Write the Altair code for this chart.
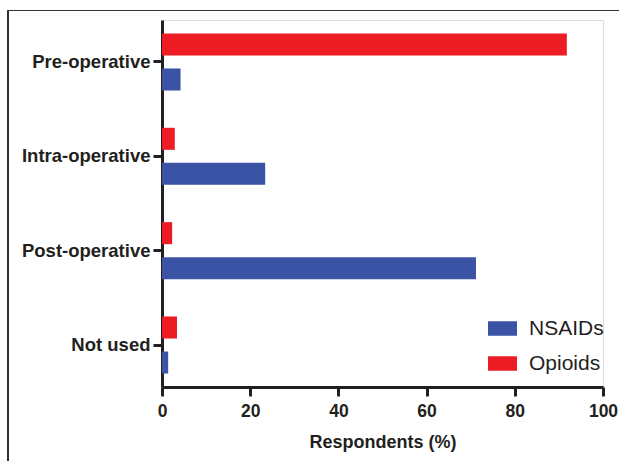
import altair as alt
import pandas as pd

categories = ["Pre-operative", "Intra-operative", "Post-operative", "Not used"]
nsaids = [4.2, 23.4, 71.2, 1.4]
opioids = [91.8, 2.9, 2.3, 3.4]
series = ["NSAIDs", "Opioids"]
colors = ["#3A53A4", "#ED1C24"]
x_ticks = [0, 20, 40, 60, 80, 100]

rows = []
for c, n, o in zip(categories, nsaids, opioids):
    rows.append({"phase": c, "drug": "NSAIDs", "value": n})
    rows.append({"phase": c, "drug": "Opioids", "value": o})
df = pd.DataFrame(rows)

font = "Liberation Sans"
ink = "#231F20"

bars = alt.Chart(df).mark_bar(cornerRadius=0).encode(
    x=alt.X("value:Q",
            scale=alt.Scale(domain=[0, 100], nice=False, zero=True),
            axis=alt.Axis(values=x_ticks, title="Respondents (%)", grid=False,
                          labelFlush=False, labelOverlap=False,
                          domainColor=ink, domainWidth=3, tickColor=ink, tickWidth=3,
                          tickSize=9, labelFont=font, labelFontSize=17.5, labelFontWeight="bold",
                          labelColor=ink, labelPadding=6, titleFont=font, titleFontSize=18,
                          titleFontWeight="bold", titleColor=ink, titlePadding=14)),
    y=alt.Y("phase:N", sort=categories,
            scale=alt.Scale(paddingInner=0.395, paddingOuter=0.1425),
            axis=alt.Axis(title=None, domainColor=ink, domainWidth=3, tickColor=ink,
                          tickWidth=3, tickSize=9, labelFont=font, labelFontSize=18.5,
                          labelFontWeight="bold", labelColor=ink, labelPadding=3)),
    yOffset=alt.YOffset("drug:N", sort=["Opioids", "NSAIDs"],
                        scale=alt.Scale(paddingInner=0.371, paddingOuter=0)),
    color=alt.Color("drug:N", scale=alt.Scale(domain=series, range=colors),
                    legend=alt.Legend(title=None, orient="none", legendX=326, legendY=294,
                                      symbolType="M-1,-0.5H1V0.5H-1Z", symbolSize=841,
                                      symbolStrokeWidth=0, labelFont=font, labelFontSize=21,
                                      labelColor=ink, rowPadding=10, labelOffset=12)),
)

frame_top = alt.Chart(df).mark_rule(color="#333333", strokeWidth=1.2).encode(
    x=alt.value(-154), x2=alt.value(457), y=alt.value(-9.5))
frame_left = alt.Chart(df).mark_rule(color="#333333", strokeWidth=1.2).encode(
    x=alt.value(-154), y=alt.value(-9.5), y2=alt.value(441))

chart = alt.layer(bars, frame_top, frame_left).properties(
    width=441, height=367,
    autosize=alt.AutoSizeParams(type="none"),
    padding={"left": 162, "top": 20, "right": 16, "bottom": 74},
).configure_view(stroke=None).configure(background="white")

chart.save("out.html", embed_options={"renderer": "svg", "actions": False})
